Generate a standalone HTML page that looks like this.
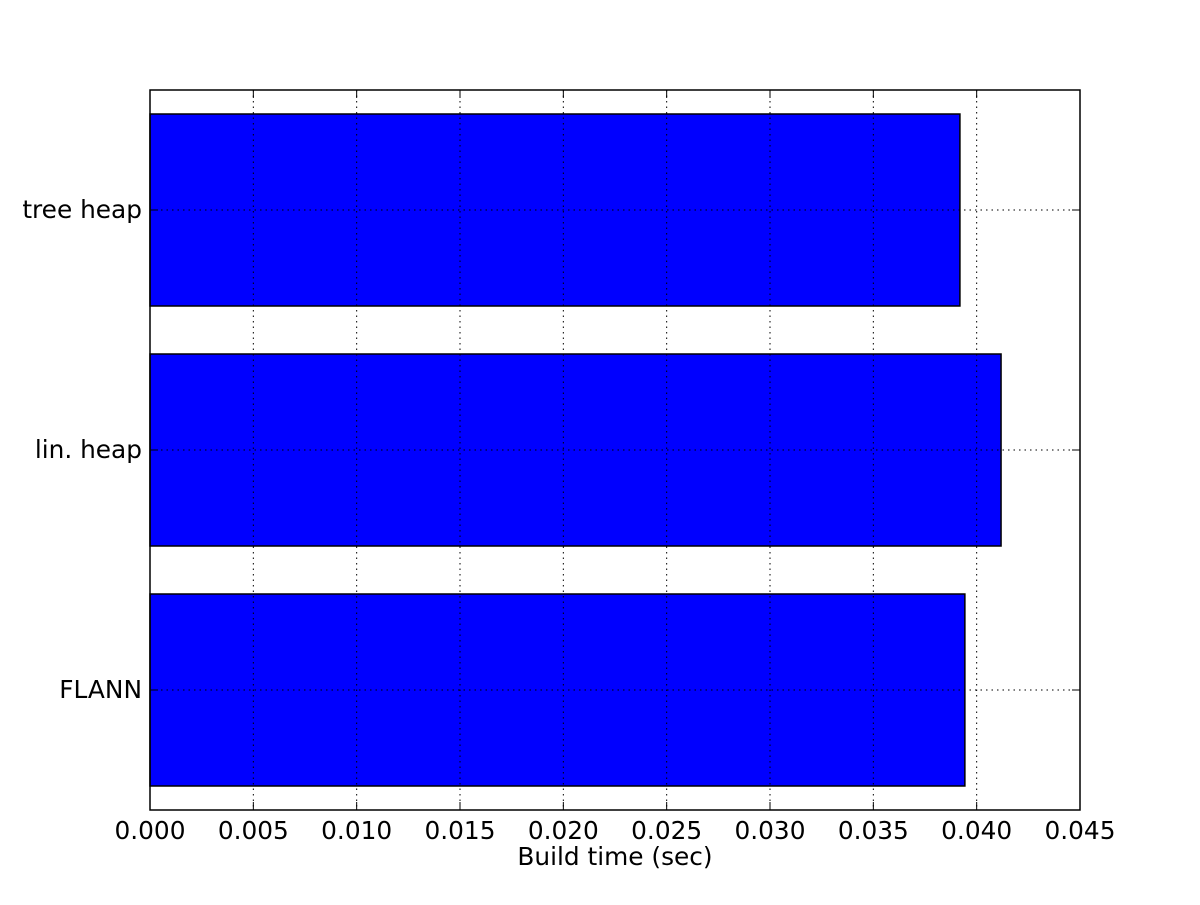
<!DOCTYPE html>
<html><head><meta charset="utf-8"><style>
body{margin:0;background:#fff}
svg text{font-family:"DejaVu Sans","Liberation Sans",sans-serif;font-size:24.8px;fill:#000}
</style></head><body>
<svg id="chart" width="1200" height="900" xmlns="http://www.w3.org/2000/svg">
<g id="bars"></g>
<g id="grid"></g>
<g id="ticks"></g>
<rect x="150" y="90" width="930" height="720" fill="none" stroke="#000" stroke-width="1.5"/>
<text x="615" y="865" text-anchor="middle">Build time (sec)</text>
</svg>
<script>
const categories = ["FLANN", "lin. heap", "tree heap"];
const values = [0.03943, 0.04118, 0.03919];
const xTicks = [0, 0.005, 0.01, 0.015, 0.02, 0.025, 0.03, 0.035, 0.04, 0.045];
const xTickLabels = ["0.000","0.005","0.010","0.015","0.020","0.025","0.030","0.035","0.040","0.045"];
const L=150,R=1080,T=90,B=810,xMax=0.045;
const xs=v=>L+v/xMax*(R-L);
const ys=i=>B-(i+0.5)*(B-T)/categories.length;
const bh=0.8*(B-T)/categories.length;
const NS="http://www.w3.org/2000/svg";
function mk(tag,attrs,parent){const e=document.createElementNS(NS,tag);for(const k in attrs)e.setAttribute(k,attrs[k]);parent.appendChild(e);return e;}
const grid=document.getElementById('grid'),bars=document.getElementById('bars'),ticks=document.getElementById('ticks');
xTicks.forEach((t,i)=>{
  const x=xs(t);
  const g=mk('line',{x1:x,x2:x,y1:T,y2:B,stroke:'#000','stroke-dasharray':'1.5,4','stroke-width':1},grid);
  
  
  const tk=mk('line',{x1:x,x2:x,y1:B,y2:B-8,stroke:'#000','stroke-width':1},ticks);
  
  
  const tk2=mk('line',{x1:x,x2:x,y1:T,y2:T+8,stroke:'#000','stroke-width':1},ticks);
  
  
  const lb=mk('text',{x:x,y:B+29,'text-anchor':'middle'},ticks);
  lb.textContent=xTickLabels[i];
  
  
});
categories.forEach((c,i)=>{
  const y=ys(i);
  const b=mk('rect',{x:L,y:y-bh/2,width:xs(values[i])-L,height:bh,fill:'#0000ff',stroke:'#000','stroke-width':1.5},bars);
  
  
  const g=mk('line',{x1:L,x2:R,y1:y,y2:y,stroke:'#000','stroke-dasharray':'1.5,4','stroke-width':1},grid);
  
  
  const tk=mk('line',{x1:L,x2:L+8,y1:y,y2:y,stroke:'#000'},ticks);
  
  
  const tk2=mk('line',{x1:R,x2:R-8,y1:y,y2:y,stroke:'#000'},ticks);
  
  
  const lb=mk('text',{x:L-8,y:y+8,'text-anchor':'end'},ticks);
  lb.textContent=c;
  
  
});
</script>
</body></html>
